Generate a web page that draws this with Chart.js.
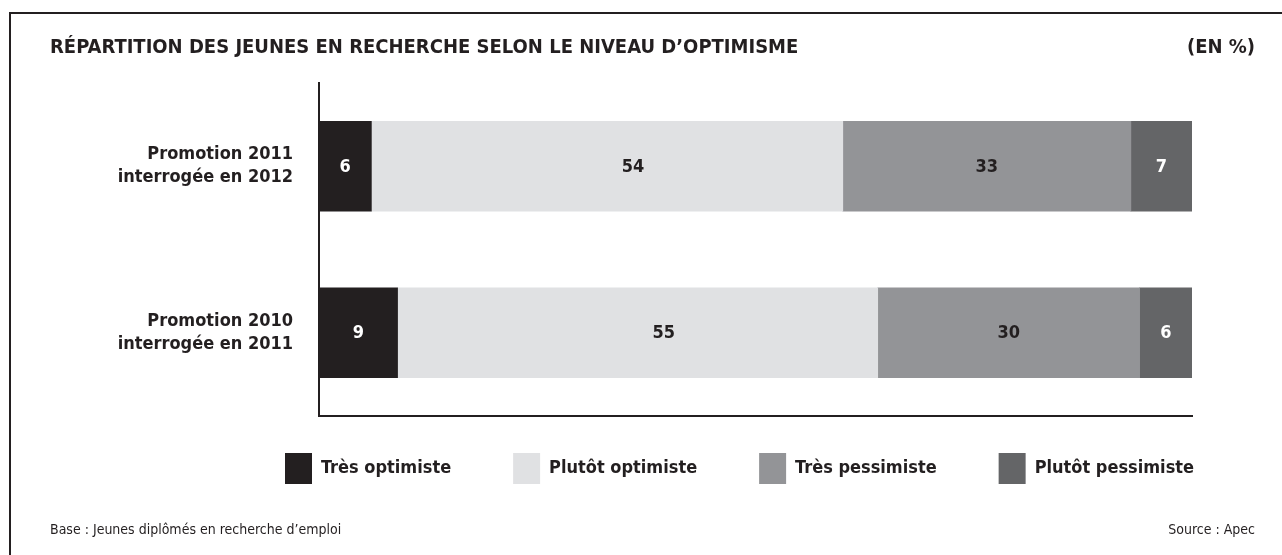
<!DOCTYPE html>
<html>
<head>
<meta charset="utf-8">
<script src="https://cdn.jsdelivr.net/npm/chart.js@4/dist/chart.umd.min.js"></script>
<style>
  html, body { margin: 0; padding: 0; background: #fff; overflow: hidden; }
  #wrap { position: relative; width: 1282px; height: 555px; }
  #frame { position: absolute; left: 9px; top: 12px; right: -10px; bottom: -10px; border: 2px solid #231f20; }
  canvas { position: absolute; left: 0; top: 0; }
  .txt { position: absolute; font-family: "DejaVu Sans Condensed", "DejaVu Sans", sans-serif; color: #231f20; white-space: nowrap; }
  #title { left: 50px; top: 34px; font-size: 20px; font-weight: bold; line-height: 24px; }
  #unit { right: 27px; top: 34px; font-size: 20px; font-weight: bold; line-height: 24px; }
  #base { left: 50px; top: 520px; font-size: 14px; line-height: 18px; }
  #source { right: 27px; top: 520px; font-size: 14px; line-height: 18px; }
</style>
</head>
<body>
<div id="wrap">
  <div id="frame"></div>
  <canvas id="mychart" width="1282" height="555"></canvas>
  <div class="txt" id="title">RÉPARTITION DES JEUNES EN RECHERCHE SELON LE NIVEAU D’OPTIMISME</div>
  <div class="txt" id="unit">(EN %)</div>
  <div class="txt" id="base">Base : Jeunes diplômés en recherche d’emploi</div>
  <div class="txt" id="source">Source : Apec</div>
</div>
<script>
const categories = [
    ['Promotion 2011', 'interrogée en 2012'],
    ['Promotion 2010', 'interrogée en 2011']
];
const seriesNames = ['Très optimiste', 'Plutôt optimiste', 'Très pessimiste', 'Plutôt pessimiste'];
const tresOptimiste = [6, 9];
const plutotOptimiste = [54, 55];
const tresPessimiste = [33, 30];
const plutotPessimiste = [7, 6];

const colors = ['#231f20', '#e0e1e3', '#939497', '#646567'];
const labelColors = ['#ffffff', '#231f20', '#231f20', '#ffffff'];
const labelShift = [0, 26, 0, 0]; // the light segment's numbers sit right of centre in the original
const font = '"DejaVu Sans Condensed", "DejaVu Sans", sans-serif';

// left padding + legend item padding = first legend box x
const padLeft = 223;
const legendPad = 62;

const valueLabels = {
    id: 'valueLabels',
    afterLayout(chart) {
        // let the category labels run left of the axis box without being clipped
        chart.scales.y.left = 0;
    },
    afterDatasetsDraw(chart) {
        const c = chart.ctx;
        c.save();
        c.font = 'bold 18px ' + font;
        c.textAlign = 'center';
        c.textBaseline = 'middle';
        chart.data.datasets.forEach((ds, i) => {
            chart.getDatasetMeta(i).data.forEach((bar, j) => {
                const p = bar.getCenterPoint();
                c.fillStyle = labelColors[i];
                c.fillText(ds.data[j], p.x + labelShift[i], p.y + 1);
            });
        });
        c.restore();
    }
};

const ctx = document.getElementById('mychart').getContext('2d');
const allData = [tresOptimiste, plutotOptimiste, tresPessimiste, plutotPessimiste];

let obj = {
    type: 'bar',
    data: {
        labels: categories,
        datasets: allData.map((d, i) => ({
            label: seriesNames[i],
            data: d,
            backgroundColor: colors[i],
            borderWidth: 0,
            barThickness: 90
        }))
    },
    options: {
        indexAxis: 'y',
        responsive: false,
        animation: false,
        layout: {
            padding: { left: padLeft, right: 0, top: 83, bottom: 36 }
        },
        plugins: {
            tooltip: { enabled: false },
            legend: {
                position: 'bottom',
                align: 'start',
                labels: {
                    boxWidth: 27,
                    boxHeight: 31,
                    padding: legendPad,
                    color: '#231f20',
                    font: { family: font, size: 18, weight: 'bold' }
                }
            }
        },
        scales: {
            x: {
                stacked: true,
                min: 0,
                max: 100,
                ticks: { display: false },
                grid: { display: false, drawTicks: false },
                border: { display: true, color: '#231f20', width: 2 },
                // legend overlaps the empty strip under the axis
                afterFit: s => { s.height = -25; }
            },
            y: {
                stacked: true,
                ticks: {
                    color: '#231f20',
                    padding: 26,
                    font: { family: font, size: 18, weight: 'bold', lineHeight: 1.28 }
                },
                grid: { display: false, drawTicks: false },
                border: { display: true, color: '#231f20', width: 2 },
                afterFit: s => { s.width = 319 - padLeft; }
            },
            yRight: {
                type: 'linear',
                position: 'right',
                display: true,
                ticks: { display: false },
                grid: { display: false, drawTicks: false },
                border: { display: false },
                afterFit: s => { s.width = 90; }
            }
        }
    },
    plugins: [valueLabels]
};
let myChart = new Chart(ctx, obj);
</script>
</body>
</html>
